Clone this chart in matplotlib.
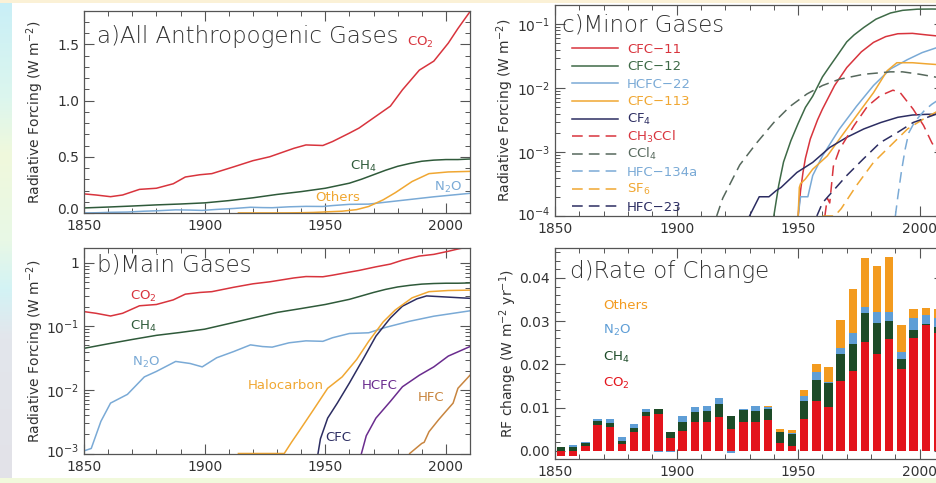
import numpy as np
import matplotlib
matplotlib.use("Agg")
import matplotlib.pyplot as plt
from matplotlib.ticker import MultipleLocator, LogLocator, FuncFormatter, NullFormatter, FormatStrFormatter
from matplotlib.patches import Rectangle
from matplotlib.lines import Line2D
from matplotlib.colors import LinearSegmentedColormap
from matplotlib.transforms import ScaledTranslation

# ---------------- data ----------------
co2_years = [1850, 1855, 1861, 1866, 1873, 1880, 1887, 1892, 1898, 1903, 1912, 1920, 1927,
             1937, 1942, 1949, 1953, 1960, 1964, 1971, 1977, 1982, 1989, 1995, 2001, 2005, 2010]
co2 = [0.17, 0.16, 0.145, 0.16, 0.21, 0.22, 0.26, 0.32, 0.34, 0.35, 0.41, 0.465, 0.50,
       0.575, 0.605, 0.60, 0.635, 0.71, 0.755, 0.86, 0.95, 1.095, 1.27, 1.35, 1.51, 1.64, 1.79]

ch4_years = [1850, 1860, 1870, 1880, 1890, 1900, 1910, 1920, 1930, 1940, 1950, 1960, 1965,
             1970, 1975, 1980, 1985, 1990, 1995, 2000, 2005, 2010]
ch4 = [0.045, 0.053, 0.062, 0.072, 0.08, 0.09, 0.11, 0.135, 0.165, 0.19, 0.22, 0.265, 0.30,
       0.34, 0.38, 0.415, 0.44, 0.46, 0.47, 0.475, 0.475, 0.48]

n2o_years = [1850, 1853, 1857, 1861, 1868, 1875, 1880, 1888, 1894, 1899, 1905, 1912, 1919,
             1924, 1928, 1935, 1942, 1949, 1953, 1960, 1968, 1975, 1985, 1995, 2010]
n2o = [0.0011, 0.0012, 0.0032, 0.0062, 0.0085, 0.016, 0.0195, 0.028, 0.026, 0.023, 0.032, 0.04,
       0.051, 0.048, 0.047, 0.055, 0.059, 0.058, 0.066, 0.077, 0.079, 0.096, 0.12, 0.144, 0.175]

halo_years = [1914, 1933, 1936, 1939, 1945, 1951, 1957, 1963, 1968, 1974, 1979, 1986, 1993, 2001, 2010]
halo = [0.001, 0.001, 0.0015, 0.0022, 0.0048, 0.0106, 0.016, 0.03, 0.058, 0.117, 0.18, 0.28,
        0.35, 0.365, 0.37]

cfc_years = [1947, 1948, 1951, 1955, 1960, 1966, 1971, 1977, 1982, 1988, 1992, 1999, 2010]
cfc = [0.001, 0.0017, 0.0036, 0.0062, 0.0128, 0.032, 0.07, 0.135, 0.207, 0.27, 0.30, 0.29, 0.275]

hcfc_years = [1965, 1967, 1971, 1977, 1982, 1989, 1995, 2001, 2010]
hcfc = [0.001, 0.0019, 0.0036, 0.0066, 0.0112, 0.017, 0.023, 0.034, 0.048]

hfc_years = [1985, 1990, 1991, 1993, 1997, 2000, 2003, 2005, 2010]
hfc = [0.001, 0.00144, 0.0015, 0.0022, 0.0034, 0.0046, 0.0062, 0.0106, 0.017]

# minor gases
cfc11_years = [1950, 1951, 1952, 1953, 1955, 1958, 1960, 1965, 1970, 1976, 1981, 1986, 1991, 1997, 2003, 2010]
cfc11 = [1e-4, 2.5e-4, 4.8e-4, 8e-4, 0.0016, 0.0032, 0.0047, 0.011, 0.021, 0.037, 0.052, 0.064,
         0.071, 0.072, 0.068, 0.064]

cfc12_years = [1940, 1942, 1944, 1947, 1950, 1953, 1956, 1960, 1963, 1966, 1970, 1973, 1977,
               1982, 1988, 1993, 1999, 2005, 2010]
cfc12 = [1e-4, 3e-4, 7e-4, 0.0015, 0.0028, 0.005, 0.0075, 0.015, 0.022, 0.032, 0.053, 0.068,
         0.089, 0.12, 0.15, 0.165, 0.172, 0.173, 0.172]

hcfc22_years = [1950, 1951, 1954, 1956, 1960, 1967, 1974, 1981, 1988, 1995, 2001, 2007, 2010]
hcfc22 = [1e-4, 2e-4, 2e-4, 4.3e-4, 8.7e-4, 0.0023, 0.0052, 0.011, 0.02, 0.028, 0.036, 0.043, 0.047]

cfc113_years = [1950, 1950.5, 1951, 1953, 1956, 1962, 1967, 1974, 1981, 1986.6, 1990.6, 1997, 2003, 2010]
cfc113 = [1e-4, 2.8e-4, 3.2e-4, 3.8e-4, 5.4e-4, 8.7e-4, 0.0016, 0.0037, 0.0085, 0.0187, 0.025,
          0.025, 0.024, 0.023]

cf4_years = [1930, 1934, 1938, 1941, 1943, 1949.5, 1956, 1963, 1970, 1977, 1984, 1991, 1997, 2003, 2010]
cf4 = [1e-4, 2e-4, 2e-4, 2.5e-4, 2.8e-4, 4.8e-4, 6.9e-4, 0.00118, 0.0017, 0.0023, 0.0029,
       0.0035, 0.0038, 0.0039, 0.0039]

ch3ccl_years = [1961, 1962, 1963, 1964.5, 1967, 1973, 1978.5, 1983.7, 1989, 1992, 1997.3, 2001.6, 2005, 2010]
ch3ccl = [1e-4, 1.9e-4, 1.6e-4, 6e-4, 0.0011, 0.0026, 0.0052, 0.0076, 0.0093, 0.0085, 0.0047,
          0.0026, 0.0014, 0.0007]

ccl4_years = [1916.5, 1919, 1926, 1933, 1940, 1946.7, 1953.6, 1960, 1967, 1977, 1988, 1993, 2000, 2007, 2010]
ccl4 = [1e-4, 1.9e-4, 6.3e-4, 0.0014, 0.0029, 0.0052, 0.0081, 0.011, 0.0138, 0.0165, 0.018,
        0.018, 0.0165, 0.0148, 0.014]

hfc134a_years = [1990, 1991, 1992.5, 1994, 1995.5, 1998, 2002, 2005, 2010]
hfc134a = [1e-4, 2e-4, 5e-4, 0.0011, 0.002, 0.003, 0.0045, 0.0056, 0.0075]

sf6_years = [1960, 1965, 1967.7, 1974, 1981, 1988, 1995, 2001.6, 2006.6, 2010]
sf6 = [1e-4, 1e-4, 1.3e-4, 3e-4, 6.9e-4, 0.00126, 0.0023, 0.0033, 0.0042, 0.005]

hfc23_years = [1957.7, 1960, 1963.2, 1970, 1976.8, 1983.7, 1990.6, 1997.3, 2006.6, 2010]
hfc23 = [1e-4, 1.6e-4, 2.2e-4, 4.3e-4, 7.8e-4, 0.0014, 0.002, 0.0029, 0.0039, 0.0043]

# 5-year mean rates of change
rate_years = [1852.5, 1857.5, 1862.5, 1867.5, 1872.5, 1877.5, 1882.5, 1887.5, 1892.5, 1897.5,
              1902.5, 1907.5, 1912.5, 1917.5, 1922.5, 1927.5, 1932.5, 1937.5, 1942.5, 1947.5,
              1952.5, 1957.5, 1962.5, 1967.5, 1972.5, 1977.5, 1982.5, 1987.5, 1992.5, 1997.5,
              2002.5, 2007.5]
rate_co2 = [-0.0012, -0.0011, 0.0012, 0.0061, 0.0055, 0.0017, 0.0045, 0.0081, 0.0085, 0.0029,
            0.0046, 0.0067, 0.0067, 0.0079, 0.0051, 0.0066, 0.0066, 0.0071, 0.0018, 0.0012,
            0.0075, 0.0115, 0.0102, 0.0162, 0.0185, 0.0252, 0.0225, 0.0258, 0.0189, 0.0260,
            0.0290, 0.0272]
rate_ch4 = [0.0010, 0.0009, 0.0006, 0.0009, 0.0009, 0.0007, 0.0008, 0.0010, 0.0012, 0.0015,
            0.0021, 0.0023, 0.0025, 0.0029, 0.0030, 0.0029, 0.0026, 0.0025, 0.0025, 0.0028,
            0.0041, 0.0049, 0.0056, 0.0062, 0.0063, 0.0066, 0.0070, 0.0043, 0.0023, 0.0019,
            0.0003, 0.0015]
rate_n2o = [0.0000, 0.0006, 0.0003, 0.0004, 0.0011, 0.0008, 0.0009, 0.0007, -0.0002, -0.0002,
            0.0013, 0.0011, 0.0013, 0.0015, -0.0004, 0.0003, 0.0011, 0.0006, 0.0002, 0.0002,
            0.0012, 0.0018, 0.0001, 0.0014, 0.0024, 0.0015, 0.0025, 0.0021, 0.0016, 0.0029,
            0.0021, 0.0020]
rate_oth = [0, 0, 0, 0, 0, 0, 0, 0, 0, 0,
            0, 0, 0, 0, 0, 0, 0, 0.0003, 0.0005, 0.0006,
            0.0013, 0.0018, 0.0036, 0.0064, 0.0102, 0.0113, 0.0107, 0.0126, 0.0063, 0.0020,
            0.0016, 0.0020]

# ---------------- style ----------------
RED = '#d8343d'
GREEN = '#2f5a3a'
BLUE = '#7aaad6'
ORANGE = '#f0a732'
NAVY = '#2c2d62'
PURPLE = '#6a2c8e'
BROWN = '#c8853f'
CCL4 = '#56685c'
GREEN12 = '#3e6a47'
TXT = '#333333'

BAR_RED = '#e3141c'
BAR_GREEN = '#1d4b28'
BAR_BLUE = '#5f9ed6'
BAR_ORANGE = '#f39b1f'

W, H, DPI = 936, 483, 100
plt.rcParams['font.family'] = ['DejaVu Sans']
plt.rcParams['mathtext.default'] = 'regular'

fig = plt.figure(figsize=(W / DPI, H / DPI), dpi=DPI)
fig.patch.set_facecolor('white')


def box(l, t, r, b):
    return [l / W, 1 - b / H, (r - l) / W, (b - t) / H]


def ftext(x, y, s, **kw):
    kw.setdefault('va', 'baseline')
    kw.setdefault('ha', 'left')
    fig.text(x / W, 1 - y / H, s, **kw)


TITLE = dict(fontsize=16.5, color=TXT, fontweight=200)

# slide backdrop around the white figure area
bg = fig.add_axes([0, 0, 1, 1], zorder=-10)
bg.set_xlim(0, W)
bg.set_ylim(H, 0)
bg.axis('off')
strip = LinearSegmentedColormap.from_list(
    'strip', [(0.0, '#c9eff7'), (0.2, '#dcf6ee'), (0.32, '#f0f9dc'), (0.5, '#e8f8e6'),
              (0.6, '#d3f3f5'), (0.7, '#e3e6ec'), (1.0, '#e2e2e8')])
grad = np.linspace(0, 1, 200).reshape(-1, 1)
bg.imshow(grad, cmap=strip, extent=(0, 12, H, 0), aspect='auto')
bg.add_patch(Rectangle((0, 0), W, 3, color='#fbf1d6', lw=0))
bg.add_patch(Rectangle((0, 478), W, 5, color='#f1f9dc', lw=0))


def style(ax):
    ax.set_xlim(1850, 2010)
    ax.xaxis.set_major_locator(MultipleLocator(50))
    ax.xaxis.set_minor_locator(MultipleLocator(10))
    ax.tick_params(which='both', direction='in', top=True, right=True,
                   colors='#555555', labelcolor=TXT, labelsize=10)
    ax.tick_params(which='major', length=7, width=0.8)
    ax.tick_params(which='minor', length=3.5, width=0.7)
    ax.tick_params(axis='x', pad=4.5)
    for s in ax.spines.values():
        s.set_color('#555555')
        s.set_linewidth(0.9)


def logfmt(v, pos):
    e = int(round(np.log10(v)))
    return '1' if e == 0 else '10$^{%d}$' % e


LW = 1.1

# ---------------- a) All Anthropogenic Gases ----------------
ax_a = ax = fig.add_axes(box(84, 10.5, 470, 213))
style(ax)
ax.set_ylim(0, 1.8)
ax.yaxis.set_major_locator(MultipleLocator(0.5))
ax.yaxis.set_minor_locator(MultipleLocator(0.1))
ax.yaxis.set_major_formatter(FormatStrFormatter('%.1f'))
ax.plot(co2_years, co2, color=RED, lw=LW)
ax.plot(ch4_years, ch4, color=GREEN, lw=LW)
ax.plot(n2o_years, n2o, color=BLUE, lw=LW)
ax.plot(halo_years, halo, color=ORANGE, lw=LW)
ax.set_ylabel('Radiative Forcing (W m$^{-2}$)', fontsize=10, color=TXT)
ax.yaxis.set_label_coords(-0.098, 0.5)

ftext(97, 43, 'a)All Anthropogenic Gases', **TITLE)
ftext(407, 46, 'CO$_2$', fontsize=9.5, color=RED)
ftext(350, 170, 'CH$_4$', fontsize=9.5, color=GREEN)
ftext(315, 201, 'Others', fontsize=9.5, color=ORANGE)
ftext(434, 191, 'N$_2$O', fontsize=9.5, color=BLUE)

# ---------------- b) Main Gases ----------------
ax_b = ax = fig.add_axes(box(84, 248, 470, 453.5))
style(ax)
ax.set_yscale('log')
ax.set_ylim(1e-3, 1.7)
ax.yaxis.set_major_locator(LogLocator(base=10, numticks=10))
ax.yaxis.set_minor_locator(LogLocator(base=10, subs=np.arange(2, 10), numticks=20))
ax.yaxis.set_major_formatter(FuncFormatter(logfmt))
ax.yaxis.set_minor_formatter(NullFormatter())
ax.plot(co2_years, co2, color=RED, lw=LW)
ax.plot(ch4_years, ch4, color=GREEN, lw=LW)
ax.plot(n2o_years, n2o, color=BLUE, lw=LW)
ax.plot(cfc_years, cfc, color=NAVY, lw=LW)
ax.plot(hcfc_years, hcfc, color=PURPLE, lw=LW)
ax.plot(hfc_years, hfc, color=BROWN, lw=LW)
ax.plot(halo_years, halo, color=ORANGE, lw=LW)
ax.set_ylabel('Radiative Forcing (W m$^{-2}$)', fontsize=10, color=TXT)
ax.yaxis.set_label_coords(-0.098, 0.5)

ftext(97, 272, 'b)Main Gases', **TITLE)
ftext(130, 300, 'CO$_2$', fontsize=9.5, color=RED)
ftext(130, 330, 'CH$_4$', fontsize=9.5, color=GREEN)
ftext(132, 366, 'N$_2$O', fontsize=9.5, color=BLUE)
ftext(248, 389, 'Halocarbon', fontsize=9.5, color=ORANGE)
ftext(362, 389, 'HCFC', fontsize=9.5, color=PURPLE)
ftext(325, 441, 'CFC', fontsize=9.5, color=NAVY)
ftext(418, 401, 'HFC', fontsize=9.5, color=BROWN)

# ---------------- c) Minor Gases ----------------
ax_c = ax = fig.add_axes(box(555, 5, 944, 216))
style(ax)
ax.set_yscale('log')
ax.set_ylim(1e-4, 0.2)
ax.yaxis.set_major_locator(LogLocator(base=10, numticks=10))
ax.yaxis.set_minor_locator(LogLocator(base=10, subs=np.arange(2, 10), numticks=20))
ax.yaxis.set_major_formatter(FuncFormatter(logfmt))
ax.yaxis.set_minor_formatter(NullFormatter())

DASH = (0, (7, 4))
minor = [
    ('CFC\u221211', cfc11_years, cfc11, RED, '-'),
    ('CFC\u221212', cfc12_years, cfc12, GREEN12, '-'),
    ('HCFC\u221222', hcfc22_years, hcfc22, BLUE, '-'),
    ('CFC\u2212113', cfc113_years, cfc113, ORANGE, '-'),
    ('CF$_4$', cf4_years, cf4, NAVY, '-'),
    ('CH$_3$CCl', ch3ccl_years, ch3ccl, RED, DASH),
    ('CCl$_4$', ccl4_years, ccl4, CCL4, DASH),
    ('HFC\u2212134a', hfc134a_years, hfc134a, BLUE, DASH),
    ('SF$_6$', sf6_years, sf6, ORANGE, DASH),
    ('HFC\u221223', hfc23_years, hfc23, NAVY, DASH),
]
for i, (name, yrs, vals, col, ls) in enumerate(minor):
    ax.plot(yrs, vals, color=col, lw=LW, linestyle=ls)
    ly = 48.3 + 17.55 * i
    fig.add_artist(Line2D([572 / W, 618 / W], [1 - ly / H, 1 - ly / H], transform=fig.transFigure,
                          color=col, lw=LW, linestyle=ls))
    ftext(627, ly + 4.5, name, fontsize=9.5, color=col)
ax.set_ylabel('Radiative Forcing (W m$^{-2}$)', fontsize=10, color=TXT)
ax.yaxis.set_label_coords(-0.1, 0.5)
ftext(562, 32, 'c)Minor Gases', **TITLE)

# ---------------- d) Rate of Change ----------------
ax = fig.add_axes(box(555, 248, 944, 459))
style(ax)
ax.set_ylim(-0.00185, 0.0469)
ax.yaxis.set_major_locator(MultipleLocator(0.01))
ax.yaxis.set_major_formatter(FormatStrFormatter('%.2f'))
ax.yaxis.set_minor_locator(MultipleLocator(0.002))

pos_base = np.zeros(len(rate_years))
neg_base = np.zeros(len(rate_years))
for vals, col in [(rate_co2, BAR_RED), (rate_ch4, BAR_GREEN), (rate_n2o, BAR_BLUE), (rate_oth, BAR_ORANGE)]:
    v = np.asarray(vals, dtype=float)
    base = np.where(v >= 0, pos_base, neg_base)
    ax.bar(rate_years, v, bottom=base, width=3.45, color=col, linewidth=0, zorder=2)
    pos_base = pos_base + np.where(v > 0, v, 0)
    neg_base = neg_base + np.where(v < 0, v, 0)

ax.set_ylabel('RF change (W m$^{-2}$ yr$^{-1}$)', fontsize=10, color=TXT)
ax.yaxis.set_label_coords(-0.092, 0.5)
ftext(570, 278, 'd)Rate of Change', **TITLE)
ftext(603, 309, 'Others', fontsize=9.5, color=BAR_ORANGE)
ftext(603, 334, 'N$_2$O', fontsize=9.5, color=BAR_BLUE)
ftext(603, 361, 'CH$_4$', fontsize=9.5, color=BAR_GREEN)
ftext(603, 387, 'CO$_2$', fontsize=9.5, color=BAR_RED)

# lift the lowest y tick label of the line panels clear of the year labels
fig.canvas.draw()
for a, dy in [(ax_a, 4), (ax_b, 3), (ax_c, 3)]:
    lo = a.get_ylim()[0]
    for tick in a.yaxis.get_major_ticks():
        if np.isclose(tick.get_loc(), lo):
            tick.label1.set_transform(tick.label1.get_transform()
                                      + ScaledTranslation(0, dy / DPI, fig.dpi_scale_trans))

fig.savefig('out.png', dpi=DPI)
